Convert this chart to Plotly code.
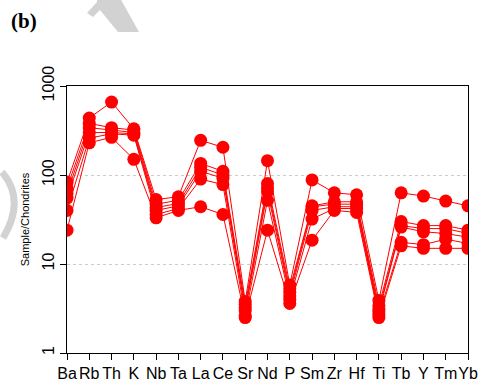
import plotly.graph_objects as go

# Chondrite-normalised multi-element spider diagram
elements = ["Ba", "Rb", "Th", "K", "Nb", "Ta", "La", "Ce", "Sr", "Nd",
            "P", "Sm", "Zr", "Hf", "Ti", "Tb", "Y", "Tm", "Yb"]

sample_1 = [83, 437, 660, 330, 53, 57, 245, 205, 3.8, 145, 5.8, 88, 63, 60, 3.9, 63, 58, 51, 45]
sample_2 = [71, 380, 340, 320, 47, 52, 135, 110, 3.5, 80, 5.3, 45, 50, 50, 3.4, 30, 27, 27, 24]
sample_3 = [62, 340, 320, 300, 43, 48, 122, 100, 3.2, 72, 4.8, 44, 47, 47, 3.1, 27, 25, 25, 22]
sample_4 = [55, 300, 300, 290, 40, 45, 110, 92, 3.0, 65, 4.4, 40, 44, 44, 2.9, 26, 23, 22, 20]
sample_5 = [40, 260, 290, 280, 36, 42, 90, 78, 2.6, 52, 4.0, 32, 42, 42, 2.7, 17.5, 16.5, 19, 17]
sample_6 = [24, 230, 265, 150, 33, 40, 44, 36, 2.5, 24, 3.6, 18.5, 40, 38, 2.5, 16, 15, 15, 15]

samples = [sample_1, sample_2, sample_3, sample_4, sample_5, sample_6]

y_ticks = [1, 10, 100, 1000]
y_tick_text = ["1", "10", "100", "1000"]

W, H = 479, 385
ML, MR, MT, MB = 67, 11, 86, 32
PW, PH = W - ML - MR, H - MT - MB


def px(x):
    return (x - ML) / PW


def py(y):
    return (H - MB - y) / PH


fig = go.Figure()

for vals in samples:
    fig.add_trace(go.Scatter(
        x=elements, y=vals, mode="lines+markers",
        line=dict(color="#ff0000", width=1),
        marker=dict(color="#ff0000", size=13),
        showlegend=False,
    ))

# faint grey background marks
wm_color = "#d2d2d2"
top_pts = [(87, 13), (97, 2), (97, -2), (120, -2), (139, 32), (118, 32), (100, 10), (93, 17)]
top_path = "M " + " L ".join(f"{px(a):.4f},{py(b):.4f}" for a, b in top_pts) + " Z"
left_path = (f"M {px(2):.4f},{py(172):.4f} Q {px(26):.4f},{py(200):.4f} {px(3):.4f},{py(238):.4f}")

shapes = [
    dict(type="path", xref="paper", yref="paper", path=top_path,
         fillcolor=wm_color, line=dict(width=0), layer="below"),
    dict(type="path", xref="paper", yref="paper", path=left_path,
         line=dict(color=wm_color, width=7), layer="below"),
]

fig.update_layout(
    width=W, height=H,
    margin=dict(l=ML, r=MR, t=MT, b=MB, autoexpand=False),
    paper_bgcolor="white", plot_bgcolor="white",
    font=dict(family="Liberation Sans, Arial, sans-serif", color="black"),
    shapes=shapes,
    annotations=[dict(
        text="<b>(b)</b>", xref="paper", yref="paper",
        x=px(9), y=py(21), xanchor="left", yanchor="middle",
        showarrow=False,
        font=dict(family="Liberation Serif, Times New Roman, serif", size=21, color="black"),
    )],
)

fig.update_xaxes(
    type="category", range=[0, len(elements) - 1], automargin=False,
    showline=True, linecolor="black", linewidth=1, mirror=True,
    ticks="outside", ticklen=6, tickcolor="black", tickangle=0,
    tickfont=dict(size=16), showgrid=False, zeroline=False,
)

fig.update_yaxes(
    type="log", range=[0, 3], automargin=False,
    tickvals=y_ticks, ticktext=y_tick_text, tickangle=-90,
    showline=True, linecolor="black", linewidth=1, mirror=True,
    ticks="outside", ticklen=6, tickcolor="black",
    tickfont=dict(size=16),
    showgrid=True, gridcolor="#cccccc", griddash="dot", gridwidth=1,
    zeroline=False,
    title=dict(text="Sample/Chondrites", font=dict(size=11), standoff=7),
)

fig.write_html("out.html")
